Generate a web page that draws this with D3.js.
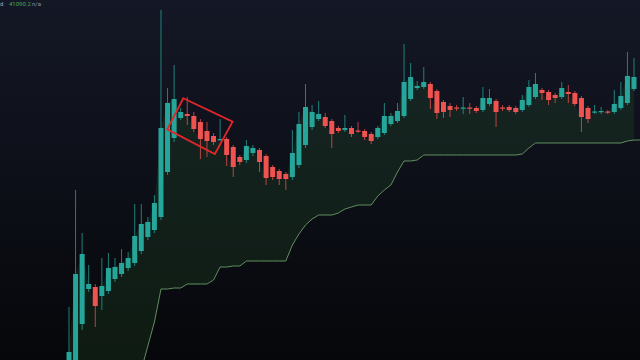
<!DOCTYPE html>
<html>
<head>
<meta charset="utf-8">
<script src="https://cdn.jsdelivr.net/npm/d3@7"></script>
<style>
  html, body { margin: 0; padding: 0; background: #0b0d14; overflow: hidden; }
  svg { display: block; }
</style>
</head>
<body>
<script>
// candle data (one entry per bar)
var open = [39880,39880,40360,40710,40730,40640,40690,40810,40860,40920,40970,41090,41230,41300,41430,41880,42220,42420,42460,42440,
  42380,42290,42240,42200,42210,42130,42030,42000,42070,42100,42040,41930,41890,41860,41830,41950,42150,42330,42410,42430,
  42390,42320,42300,42320,42295,42290,42260,42230,42270,42360,42390,42440,42610,42720,42730,42760,42690,42580,42540,42525,
  42515,42525,42520,42500,42560,42590,42525,42530,42520,42500,42550,42630,42700,42680,42650,42630,42680,42670,42620,42520,
  42475,42480,42485,42480,42520,42570,42710];
var high = [40530,41700,41270,40950,40760,41020,41070,41020,41110,41080,41560,41560,41430,41650,43500,42720,42950,42520,42630,42480,
  42410,42380,42270,42410,42230,42150,42050,42200,42150,42120,42060,41950,41910,41880,42300,42480,42760,42550,42590,42470,
  42410,42340,42450,42340,42380,42310,42280,42340,42570,42470,42570,43160,42970,42790,42930,42780,42710,42600,42570,42550,
  42630,42570,42540,42730,42710,42610,42550,42550,42540,42650,42800,42870,42720,42700,42670,42780,42750,42690,42640,42540,
  42550,42530,42500,42700,42780,43080,43020];
var low = [39850,39850,40300,40680,40330,40500,40660,40780,40830,40890,40940,41060,41200,41270,41400,41850,42180,42400,42350,42280,
  42010,42030,42150,42190,41940,41830,41950,41970,42040,41880,41750,41800,41750,41700,41800,41920,42120,42300,42390,42320,
  42120,42270,42280,42230,42270,42200,42160,42210,42250,42340,42370,42420,42590,42700,42710,42510,42410,42420,42430,42490,
  42460,42460,42470,42480,42540,42330,42490,42480,42460,42480,42530,42610,42600,42550,42570,42610,42570,42540,42280,42370,
  42460,42460,42460,42460,42500,42550,42690];
var close = [40080,40860,41060,40760,40540,40740,40920,40930,40970,41020,41240,41360,41380,41570,42320,42570,42610,42480,42440,42310,
  42210,42190,42180,42210,42050,41930,41980,42140,42120,41980,41820,41830,41810,41810,42070,42360,42530,42480,42460,42340,
  42260,42290,42320,42260,42285,42230,42190,42320,42440,42440,42490,42780,42830,42740,42780,42620,42470,42480,42500,42515,
  42525,42515,42490,42620,42620,42480,42515,42500,42480,42600,42730,42760,42670,42600,42620,42720,42660,42560,42430,42410,
  42485,42490,42475,42560,42640,42840,42830];

// trailing stop line under the price
var stopLine = [38400,38550,38700,38850,39000,39150,39300,39450,39600,39700,39800,39900,40140,40380,40710,40710,40720,40720,40760,40760,
  40760,40760,40800,40930,40930,40940,40940,40990,40990,40990,40990,40990,40990,40990,41150,41260,41350,41410,41450,41450,
  41450,41470,41510,41530,41550,41550,41550,41640,41700,41750,41880,41990,41990,42000,42050,42050,42050,42050,42050,42050,
  42050,42050,42050,42050,42050,42050,42050,42050,42050,42060,42120,42170,42170,42170,42170,42170,42170,42170,42170,42170,
  42170,42170,42170,42170,42170,42190,42200];

// hand-drawn box, corners as [bar index, price]
var box = [[17.4, 42617], [24.9, 42383], [22.2, 42060], [14.96, 42307]];

var w = 640, h = 360;

var svg = d3.select("body").append("svg")
  .attr("width", w)
  .attr("height", h);

var defs = svg.append("defs");
var grad = defs.append("linearGradient")
  .attr("id", "bg")
  .attr("x1", 0).attr("y1", 0).attr("x2", 0).attr("y2", 1);
grad.append("stop").attr("offset", "0%").attr("stop-color", "#141826");
grad.append("stop").attr("offset", "100%").attr("stop-color", "#06070a");

svg.append("rect")
  .attr("width", w)
  .attr("height", h)
  .attr("fill", "url(#bg)");

var x = d3.scaleLinear().domain([0, 86]).range([69, 634]);
var y = d3.scaleLinear().domain([40000, 43600]).range([360, 0]);

var idx = d3.range(close.length);

// shaded area between stop line and close
var area = d3.area()
  .x(function(i) { return x(i); })
  .y0(function(i) { return y(stopLine[i]); })
  .y1(function(i) { return y(close[i]); });

svg.append("path")
  .datum(idx)
  .attr("d", area)
  .attr("fill", "rgba(40, 85, 42, 0.26)");

var line = d3.line()
  .x(function(i) { return x(i); })
  .y(function(i) { return y(stopLine[i]); });

svg.append("path")
  .datum(idx.concat([87]))
  .attr("d", d3.line()
    .x(function(i) { return x(i); })
    .y(function(i) { return y(stopLine[Math.min(i, 86)]); }))
  .attr("fill", "none")
  .attr("stroke", "#5f8f5e")
  .attr("stroke-width", 1);

function col(i) {
  return close[i] >= open[i] ? "#26a69a" : "#ef5350";
}

// wicks
svg.selectAll("line.wick")
  .data(idx)
  .enter()
  .append("line")
  .attr("class", "wick")
  .attr("x1", function(i) { return x(i); })
  .attr("x2", function(i) { return x(i); })
  .attr("y1", function(i) { return y(high[i]); })
  .attr("y2", function(i) { return y(low[i]); })
  .attr("stroke", col)
  .attr("stroke-width", 1)
  .style("opacity", 0.75);

// bodies
var bw = 5;
svg.selectAll("rect.body")
  .data(idx)
  .enter()
  .append("rect")
  .attr("class", "body")
  .attr("x", function(i) { return x(i) - bw / 2; })
  .attr("y", function(i) { return y(Math.max(open[i], close[i])); })
  .attr("width", bw)
  .attr("height", function(i) {
    return Math.max(1.2, Math.abs(y(open[i]) - y(close[i])));
  })
  .attr("fill", col);

// red box drawing
svg.append("polygon")
  .attr("points", box.map(function(p) { return x(p[0]) + "," + y(p[1]); }).join(" "))
  .attr("fill", "none")
  .attr("stroke", "#e3262b")
  .attr("stroke-width", 1.8);

// legend text at top-left
var t = svg.append("text")
  .attr("x", 0)
  .attr("y", 6)
  .attr("font-family", "Roboto, sans-serif")
  .attr("font-size", "6px");
t.append("tspan").attr("fill", "#a9acb5").text("d");
t.append("tspan").attr("x", 9).attr("fill", "#4fa35a").text("41090.2");
t.append("tspan").attr("x", 32).attr("fill", "#8c8f98").text("n/a");
</script>
</body>
</html>
